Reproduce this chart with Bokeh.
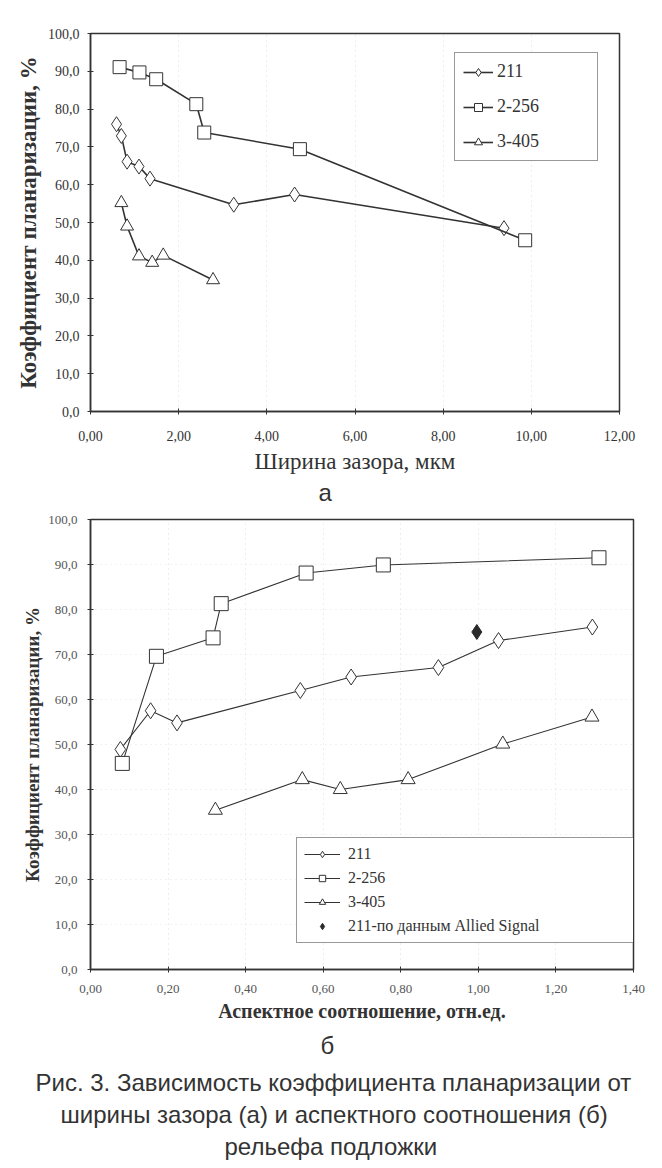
from bokeh.plotting import figure
from bokeh.layouts import column
from bokeh.models import Legend, LegendItem, Title, FixedTicker, Range1d
from bokeh.embed import file_html
from bokeh.resources import INLINE

# ---------------- data: chart (a) — gap width, um ----------------
w_211 = [0.59, 0.70, 0.83, 1.10, 1.35, 3.25, 4.63, 9.38]
k_211 = [76.0, 72.9, 66.1, 64.8, 61.6, 54.7, 57.4, 48.5]
w_2256 = [0.66, 1.11, 1.49, 2.40, 2.58, 4.75, 9.86]
k_2256 = [91.1, 89.7, 87.9, 81.3, 73.8, 69.4, 45.3]
w_3405 = [0.70, 0.83, 1.10, 1.40, 1.65, 2.78]
k_3405 = [55.2, 49.0, 41.1, 39.4, 41.3, 34.8]

# ---------------- data: chart (б) — aspect ratio ----------------
a_211 = [0.077, 0.155, 0.223, 0.541, 0.672, 0.897, 1.052, 1.294]
b_211 = [48.9, 57.5, 54.8, 62.0, 65.0, 67.1, 73.1, 76.1]
a_2256 = [0.082, 0.170, 0.316, 0.337, 0.556, 0.755, 1.311]
b_2256 = [45.8, 69.6, 73.7, 81.3, 88.1, 89.9, 91.5]
a_3405 = [0.322, 0.546, 0.644, 0.819, 1.063, 1.293]
b_3405 = [35.4, 42.2, 40.0, 42.2, 50.1, 56.1]
a_allied = [0.996]
b_allied = [75.0]

series_names = ["211", "2-256", "3-405", "211-по данным Allied Signal"]

# ---------------- ticks ----------------
ya_ticks = [0, 10, 20, 30, 40, 50, 60, 70, 80, 90, 100]
ya_labels = ["0,0", "10,0", "20,0", "30,0", "40,0", "50,0", "60,0", "70,0", "80,0", "90,0", "100,0"]
xa_ticks = [0, 2, 4, 6, 8, 10, 12]
xa_labels = ["0,00", "2,00", "4,00", "6,00", "8,00", "10,00", "12,00"]
xb_ticks = [0.0, 0.2, 0.4, 0.6, 0.8, 1.0, 1.2, 1.4]
xb_labels = ["0,00", "0,20", "0,40", "0,60", "0,80", "1,00", "1,20", "1,40"]

ylabel = "Коэффициент планаризации, %"
xlabel_a = "Ширина зазора, мкм"
xlabel_b = "Аспектное соотношение, отн.ед."
caption = ["Рис. 3. Зависимость коэффициента планаризации от",
           "ширины зазора (а) и аспектного соотношения (б)",
           "рельефа подложки"]

SERIF = "Liberation Serif"
SANS = "Liberation Sans"
INK = "#333333"


def style_axes(p, xt, xl, fs_tick, tick_color):
    p.xaxis.ticker = FixedTicker(ticks=xt)
    p.xaxis.major_label_overrides = dict(zip(xt, xl))
    p.yaxis.ticker = FixedTicker(ticks=ya_ticks)
    p.yaxis.major_label_overrides = dict(zip(ya_ticks, ya_labels))
    for ax in (p.xaxis, p.yaxis):
        ax.axis_line_color = INK
        ax.axis_line_width = 1.5
        ax.major_tick_line_color = INK
        ax.major_tick_in = 3
        ax.major_tick_out = 3
        ax.minor_tick_line_color = None
        ax.major_label_text_font = SERIF
        ax.major_label_text_font_size = fs_tick
        ax.major_label_text_color = tick_color
        ax.axis_label_text_font = SERIF
        ax.axis_label_text_color = INK
    p.xgrid.grid_line_color = "#dcdcdc"
    p.xgrid.grid_line_dash = "1 4"
    p.ygrid.grid_line_color = None
    p.outline_line_color = INK
    p.outline_line_width = 1.5
    p.background_fill_color = "white"
    p.border_fill_color = "white"


# ================= chart (a) =================
p1 = figure(width=648, height=505, x_range=Range1d(0, 12), y_range=Range1d(0, 100),
            output_backend="svg", toolbar_location=None,
            min_border_left=90, min_border_right=29, min_border_top=33, min_border_bottom=92)
style_axes(p1, xa_ticks, xa_labels, "14px", INK)
p1.xaxis.major_label_standoff = 16
p1.yaxis.major_label_standoff = 8
p1.xaxis.axis_label = xlabel_a
p1.xaxis.axis_label_text_font_size = "23px"
p1.xaxis.axis_label_text_font_style = "normal"
p1.xaxis.axis_label_standoff = 5
p1.yaxis.axis_label = ylabel
p1.yaxis.axis_label_text_font_size = "23px"
p1.yaxis.axis_label_text_font_style = "bold"
p1.yaxis.axis_label_standoff = 4

LW1 = 1.6
l1 = p1.line(w_211, k_211, line_color=INK, line_width=LW1)
s1 = p1.scatter(w_211, k_211, marker="diamond", size=15, fill_color="white", line_color=INK, line_width=1)
l2 = p1.line(w_2256, k_2256, line_color=INK, line_width=LW1)
s2 = p1.scatter(w_2256, k_2256, marker="square", size=13, fill_color="white", line_color=INK, line_width=1)
l3 = p1.line(w_3405, k_3405, line_color=INK, line_width=LW1)
s3 = p1.scatter(w_3405, k_3405, marker="triangle", size=13, fill_color="white", line_color=INK, line_width=1)

leg1 = Legend(items=[LegendItem(label=series_names[0], renderers=[l1, s1]),
                     LegendItem(label=series_names[1], renderers=[l2, s2]),
                     LegendItem(label=series_names[2], renderers=[l3, s3])],
              location=(364, 250))
leg1.border_line_color = INK
leg1.border_line_width = 1.5
leg1.padding = 8
leg1.spacing = 14
leg1.label_height = 20
leg1.glyph_height = 20
leg1.glyph_width = 30
leg1.label_standoff = 4
leg1.label_width = 92
leg1.label_text_font = SERIF
leg1.label_text_font_size = "18px"
leg1.label_text_color = INK
leg1.background_fill_color = "white"
leg1.background_fill_alpha = 1.0
p1.add_layout(leg1)

# sub-figure letter, left-aligned so that its offset is honoured
t_a = Title(text="а", align="left", text_font=SANS, text_font_size="24px",
            text_font_style="normal", text_color=INK, offset=228, standoff=0)
p1.add_layout(t_a, "below")

# ================= chart (б) =================
p2 = figure(width=662, height=560, x_range=Range1d(0, 1.4), y_range=Range1d(0, 100),
            output_backend="svg", toolbar_location=None,
            min_border_left=90, min_border_right=29, min_border_top=14, min_border_bottom=96)
style_axes(p2, xb_ticks, xb_labels, "13px", "#555555")
p2.ygrid.grid_line_color = "#e4e4e4"
p2.ygrid.grid_line_dash = "1 4"
p2.xaxis.major_label_standoff = 12
p2.yaxis.major_label_standoff = 10
p2.xaxis.axis_label = xlabel_b
p2.xaxis.axis_label_text_font_size = "20px"
p2.xaxis.axis_label_text_font_style = "bold"
p2.xaxis.axis_label_standoff = 4
p2.yaxis.axis_label = ylabel
p2.yaxis.axis_label_text_font_size = "19px"
p2.yaxis.axis_label_text_font_style = "bold"
p2.yaxis.axis_label_standoff = 2

LW2 = 1.1
m1 = p2.line(a_211, b_211, line_color=INK, line_width=LW2)
n1 = p2.scatter(a_211, b_211, marker="diamond", size=16, fill_color="white", line_color=INK, line_width=1)
m2 = p2.line(a_2256, b_2256, line_color=INK, line_width=LW2)
n2 = p2.scatter(a_2256, b_2256, marker="square", size=14, fill_color="white", line_color=INK, line_width=1)
m3 = p2.line(a_3405, b_3405, line_color=INK, line_width=LW2)
n3 = p2.scatter(a_3405, b_3405, marker="triangle", size=14, fill_color="white", line_color=INK, line_width=1)
n4 = p2.scatter(a_allied, b_allied, marker="diamond", size=15, fill_color="#2a2a2a", line_color="#2a2a2a")

leg2 = Legend(items=[LegendItem(label=series_names[0], renderers=[m1, n1]),
                     LegendItem(label=series_names[1], renderers=[m2, n2]),
                     LegendItem(label=series_names[2], renderers=[m3, n3]),
                     LegendItem(label=series_names[3], renderers=[n4])],
              location=(206, 26))
leg2.border_line_color = INK
leg2.border_line_width = 1.5
leg2.padding = 7
leg2.spacing = 6
leg2.label_height = 16
leg2.glyph_height = 16
leg2.glyph_width = 36
leg2.label_standoff = 8
leg2.label_width = 282
leg2.label_text_font = SERIF
leg2.label_text_font_size = "16px"
leg2.label_text_color = INK
leg2.background_fill_color = "white"
leg2.background_fill_alpha = 1.0
p2.add_layout(leg2)

t_b = Title(text="б", align="left", text_font=SANS, text_font_size="24px",
            text_font_style="normal", text_color=INK, offset=230, standoff=10)
p2.add_layout(t_b, "below")

# ================= caption strip =================
p3 = figure(width=662, height=103, x_range=Range1d(0, 1), y_range=Range1d(0, 1),
            output_backend="svg", toolbar_location=None,
            x_axis_location=None, y_axis_location=None,
            min_border_left=90, min_border_right=29, min_border_top=0, min_border_bottom=0)
p3.outline_line_color = None
p3.xgrid.grid_line_color = None
p3.ygrid.grid_line_color = None
p3.border_fill_color = "white"
p3.background_fill_color = "white"
cap_offsets = [-55, -30, 134]   # left-aligned text offsets from the frame edge, to centre on the page
for line, off in reversed(list(zip(caption, cap_offsets))):
    p3.add_layout(Title(text=line, align="left", text_font=SANS, text_font_size="24px",
                        text_font_style="normal", text_color=INK, standoff=3, offset=off), "above")

layout = column(p1, p2, p3)
open("out.html", "w").write(file_html(layout, INLINE))
